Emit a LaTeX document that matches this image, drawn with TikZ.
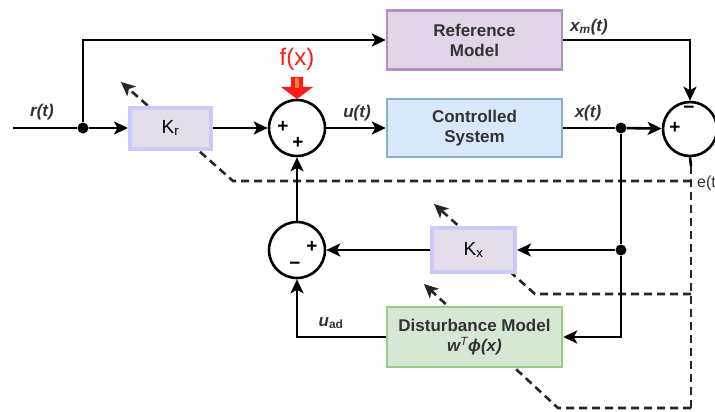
\documentclass[tikz,border=0pt]{standalone}
\usepackage{fontspec}
\setmainfont{Liberation Sans}
\usetikzlibrary{arrows.meta}
\definecolor{txt}{HTML}{333333}
\definecolor{refFill}{HTML}{E1D5E7}
\definecolor{refDraw}{HTML}{B58FC4}
\definecolor{csFill}{HTML}{DAE8FC}
\definecolor{csDraw}{HTML}{8DACD8}
\definecolor{dmFill}{HTML}{D5E8D4}
\definecolor{dmDraw}{HTML}{9CCB86}
\definecolor{kFill}{HTML}{E4DEEA}
\definecolor{kDraw}{HTML}{CACAFF}
\definecolor{fred}{HTML}{FF1A1A}
\definecolor{forange}{HTML}{E08A2A}
\tikzset{
  x=1pt, y=-1pt,
  wire/.style={line width=2.6pt, black},
  arr/.style={wire, -{Stealth[length=14pt,width=13pt,inset=3.5pt]}},
  darr/.style={line width=2.6pt, black!85, dash pattern=on 8pt off 5pt, -{Stealth[length=14pt,width=13pt,inset=3.5pt]}},
  dline/.style={line width=2.6pt, black!85, dash pattern=on 8pt off 5pt},
  bigbox/.style={draw, line width=2.4pt, align=center, text=txt, font=\fontsize{17}{20}\selectfont\bfseries, inner sep=0pt},
  kbox/.style={draw=kDraw, fill=kFill, line width=4pt, inner sep=0pt, font=\fontsize{19}{20}\selectfont, minimum width=81pt, minimum height=41pt},
  sumc/.style={circle, draw, line width=2.6pt, fill=white, minimum size=56pt, inner sep=0pt},
  sgn/.style={font=\fontsize{19}{19}\selectfont\bfseries, inner sep=0pt},
  lbl/.style={text=txt, font=\fontsize{17}{19}\selectfont\bfseries\itshape, inner sep=0pt},
  dot/.style={circle, fill=black, minimum size=11pt, inner sep=0pt}
}
\begin{document}
\begin{tikzpicture}
\useasboundingbox (0,0) rectangle (715,412);
\clip (0,0) rectangle (715,412);
% dashed adaptation paths (behind the blocks)
\coordinate (e1) at (691,166);
\coordinate (eb) at (691,408);
\coordinate (d1a) at (691,181);
\coordinate (d1b) at (233,181);
\coordinate (d1c) at (121,82);
\coordinate (d2a) at (691,294);
\coordinate (d2b) at (535,294);
\coordinate (d2c) at (434,204);
\coordinate (d3b) at (558,408);
\coordinate (d3c) at (424,284);
\draw[dline] (e1) -- (eb);
\draw[darr] (d1a) -- (d1b) -- (d1c);
\draw[darr] (d2a) -- (d2b) -- (d2c);
\draw[darr] (eb) -- (d3b) -- (d3c);
% blocks
\node[bigbox, fill=refFill, draw=refDraw, minimum width=175pt, minimum height=59pt] (ref) at (474.5,40) {Reference\\Model};
\node[bigbox, fill=csFill, draw=csDraw, minimum width=175pt, minimum height=58pt] (cs) at (474.5,128) {Controlled\\System};
\node[bigbox, fill=dmFill, draw=dmDraw, minimum width=175pt, minimum height=60pt] (dm) at (474.5,337) {Disturbance Model\\\itshape w$^{\mathit{T}}$\textit{ϕ}(x)};
\node[kbox] (kr) at (170.5,128) {K\textsubscript{r}};
\node[kbox, minimum width=83pt, minimum height=44pt] (kx) at (473.5,250) {K\textsubscript{x}};
\node[sumc] (s1) at (297,128) {};
\node[sumc] (s2) at (297,250) {};
\node[sumc, minimum size=54pt] (s3) at (690,129) {};
\node[sgn] at (283,127) {+};
\node[sgn] at (298,143) {+};
\node[sgn] at (312,247) {+};
\node[sgn] at (295,266) {\textminus};
\node[sgn] at (689,110) {\textminus};
\node[sgn] at (675,128) {+};
% points
\coordinate (in) at (13,128);
\node[dot] (j1) at (83,128) {};
\node[dot] (j2) at (621,128) {};
\node[dot] (j3) at (621,250) {};
% connectors
\draw[wire] (in) -- (j1);
\draw[arr] (j1) -- (kr);
\draw[arr] (j1) |- (ref.west);
\draw[arr] (kr) -- (s1);
\draw[arr] (s1) -- (cs);
\draw[wire] (cs) -- (j2);
\draw[arr] (j2) -- (s3);
\draw[arr] (ref.east) -| (s3.north);
\draw[wire] (j2) -- (j3);
\draw[arr] (j3) |- (dm.east);
\draw[arr] (j3) -- (kx.east);
\draw[arr] (kx.west) -- (s2.east);
\draw[arr] (s2.north) -- (s1.south);
\draw[arr] (dm.west) -| (s2.south);
\draw[wire] (s3.south) -- (e1);
% labels
\node[lbl] (lr) at (42,112) {r(t)};
\node[lbl] (lu) at (357,113) {u(t)};
\node[lbl] (lx) at (588,113) {x(t)};
\node[lbl] (lxm) at (589,27) {x\textsubscript{m}(t)};
\node[lbl] (lua) at (331,323) {u\textsubscript{\upshape ad}};
\node[text=txt, font=\fontsize{16}{17}\selectfont, anchor=west, inner sep=0pt] (le) at (697,183) {e(t)};
% f(x) disturbance input
\node[text=fred, font=\fontsize{24}{26}\selectfont, inner sep=0pt] (fx) at (297,59) {f(x)};
\fill[fred] (291,77) -- (303,77) -- (303,87) -- (313,87) -- (297,99) -- (281,87) -- (291,87) -- cycle;
\fill[forange] (295,78) rectangle (299,88);
\end{tikzpicture}
\end{document}
